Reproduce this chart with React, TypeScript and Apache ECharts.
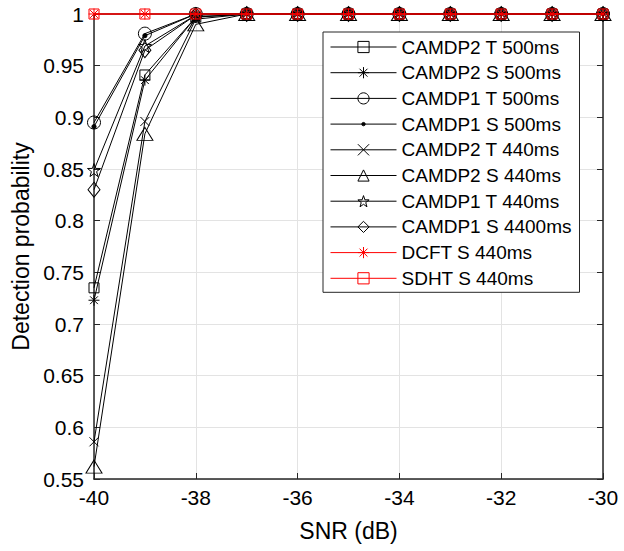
import React, { useEffect, useRef } from "react";
import * as echarts from "echarts";

const snr = [-40, -39, -38, -37, -36, -35, -34, -33, -32, -31, -30];
const camdp2T500 = [0.735, 0.941, 0.997, 1, 1, 1, 1, 1, 1, 1, 1];
const camdp2S500 = [0.723, 0.936, 0.997, 1, 1, 1, 1, 1, 1, 1, 1];
const camdp1T500 = [0.895, 0.981, 1, 1, 1, 1, 1, 1, 1, 1, 1];
const camdp1S500 = [0.891, 0.979, 1, 1, 1, 1, 1, 1, 1, 1, 1];
const camdp2T440 = [0.586, 0.896, 0.995, 1, 1, 1, 1, 1, 1, 1, 1];
const camdp2S440 = [0.562, 0.884, 0.99, 1, 1, 1, 1, 1, 1, 1, 1];
const camdp1T440 = [0.849, 0.969, 0.999, 1, 1, 1, 1, 1, 1, 1, 1];
const camdp1S4400 = [0.83, 0.965, 0.999, 1, 1, 1, 1, 1, 1, 1, 1];
const dcftS440 = [1, 1, 1, 1, 1, 1, 1, 1, 1, 1, 1];
const sdhtS440 = [1, 1, 1, 1, 1, 1, 1, 1, 1, 1, 1];

const seriesNames = [
  "CAMDP2 T 500ms",
  "CAMDP2 S 500ms",
  "CAMDP1 T 500ms",
  "CAMDP1 S 500ms",
  "CAMDP2 T 440ms",
  "CAMDP2 S 440ms",
  "CAMDP1 T 440ms",
  "CAMDP1 S 4400ms",
  "DCFT S 440ms",
  "SDHT S 440ms",
];
const seriesValues = [
  camdp2T500,
  camdp2S500,
  camdp1T500,
  camdp1S500,
  camdp2T440,
  camdp2S440,
  camdp1T440,
  camdp1S4400,
  dcftS440,
  sdhtS440,
];

const xTicks = { min: -40, max: -30, interval: 2 };
const yTicks = { min: 0.55, max: 1, interval: 0.05 };

// marker shapes
const starPath = (() => {
  const pts: string[] = [];
  for (let i = 0; i < 10; i++) {
    const r = i % 2 === 0 ? 1 : 0.4;
    const a = -Math.PI / 2 + (i * Math.PI) / 5;
    pts.push((r * Math.cos(a)).toFixed(4) + "," + (r * Math.sin(a)).toFixed(4));
  }
  return "path://M" + pts.join("L") + "Z";
})();
const asteriskPath =
  "path://M0,-1L0,1M-1,0L1,0M-0.7071,-0.7071L0.7071,0.7071M-0.7071,0.7071L0.7071,-0.7071";
const xPath = "path://M-1,-1L1,1M-1,1L1,-1";
const dotPath =
  "path://M-1,-1M1,1M0.3,0A0.3,0.3,0,1,1,-0.3,0A0.3,0.3,0,1,1,0.3,0Z";

const BLACK = "#000000";
const RED = "#ff0000";

const styles: { symbol: string; size: number | number[]; color: string; fill: string }[] = [
  { symbol: "rect", size: 10, color: BLACK, fill: "transparent" },
  { symbol: asteriskPath, size: 11, color: BLACK, fill: "transparent" },
  { symbol: "circle", size: 13, color: BLACK, fill: "transparent" },
  { symbol: dotPath, size: 14, color: BLACK, fill: BLACK },
  { symbol: xPath, size: 9, color: BLACK, fill: "transparent" },
  { symbol: "triangle", size: [16, 13], color: BLACK, fill: "transparent" },
  { symbol: starPath, size: 13, color: BLACK, fill: "transparent" },
  { symbol: "diamond", size: [12, 15], color: BLACK, fill: "transparent" },
  { symbol: asteriskPath, size: 11, color: RED, fill: "transparent" },
  { symbol: "rect", size: 10, color: RED, fill: "transparent" },
];

const FONT = "'Liberation Sans', Arial, Helvetica, sans-serif";
const AXIS = "#262626";

export default function App() {
  const ref = useRef<HTMLDivElement>(null);
  useEffect(() => {
    if (!ref.current) return;
    const chart = echarts.init(ref.current, undefined, { renderer: "svg" });
    const series = seriesNames.map((name, i) => ({
      name,
      type: "line",
      data: snr.map((x, j) => [x, seriesValues[i][j]]),
      symbol: styles[i].symbol,
      symbolSize: styles[i].size,
      showAllSymbol: true,
      clip: false,
      lineStyle: { color: styles[i].color, width: 1 },
      itemStyle: {
        color: styles[i].fill,
        borderColor: styles[i].color,
        borderWidth: 1,
      },
      emphasis: { disabled: true },
      z: 2 + i,
    }));
    const legendData = seriesNames.map((name, i) => ({
      name,
      itemStyle: { color: styles[i].fill, borderColor: styles[i].color, borderWidth: 1 },
      lineStyle: { color: styles[i].color, width: 1 },
    }));
    const fmt = (v: number) => String(parseFloat(v.toFixed(2)));
    chart.setOption({
      animation: false,
      backgroundColor: "#ffffff",
      textStyle: { fontFamily: FONT },
      grid: { left: 94, right: 21, top: 14, bottom: 72, containLabel: false },
      legend: {
        orient: "vertical",
        left: 323,
        top: 32,
        data: legendData,
        itemWidth: 66,
        itemHeight: 14,
        itemGap: 5.7,
        padding: [5, 8, 4, 7],
        backgroundColor: "#ffffff",
        borderColor: AXIS,
        borderWidth: 1,
        borderRadius: 0,
        selectedMode: false,
        itemStyle: { borderWidth: 1 },
        lineStyle: { width: 1 },
        textStyle: { fontSize: 19, lineHeight: 20, color: "#000", fontFamily: FONT },
      },
      xAxis: [
        {
          type: "value",
          min: xTicks.min,
          max: xTicks.max,
          interval: xTicks.interval,
          name: "SNR (dB)",
          nameLocation: "middle",
          nameGap: 40,
          nameTextStyle: { fontSize: 23, color: "#000", fontFamily: FONT },
          axisLine: { show: true, onZero: false, lineStyle: { color: AXIS, width: 1.5 } },
          axisTick: { show: true, inside: true, length: 6, lineStyle: { color: AXIS } },
          axisLabel: { fontSize: 21, color: "#000", margin: 8, fontFamily: FONT },
          splitLine: { show: true, lineStyle: { color: "#e3e3e3", width: 1 } },
        },
        {
          type: "value",
          position: "top",
          min: xTicks.min,
          max: xTicks.max,
          interval: xTicks.interval,
          axisLine: { show: true, onZero: false, lineStyle: { color: AXIS, width: 1.5 } },
          axisTick: { show: true, inside: true, length: 6, lineStyle: { color: AXIS } },
          axisLabel: { show: false },
          splitLine: { show: false },
        },
      ],
      yAxis: [
        {
          type: "value",
          min: yTicks.min,
          max: yTicks.max,
          interval: yTicks.interval,
          name: "Detection probability",
          nameLocation: "middle",
          nameGap: 60,
          nameTextStyle: { fontSize: 23, color: "#000", fontFamily: FONT },
          axisLine: { show: true, onZero: false, lineStyle: { color: AXIS, width: 1.5 } },
          axisTick: { show: true, inside: true, length: 6, lineStyle: { color: AXIS } },
          axisLabel: { fontSize: 21, color: "#000", margin: 10, formatter: fmt, fontFamily: FONT },
          splitLine: { show: true, lineStyle: { color: "#e3e3e3", width: 1 } },
        },
        {
          type: "value",
          position: "right",
          min: yTicks.min,
          max: yTicks.max,
          interval: yTicks.interval,
          axisLine: { show: true, onZero: false, lineStyle: { color: AXIS, width: 1.5 } },
          axisTick: { show: true, inside: true, length: 6, lineStyle: { color: AXIS } },
          axisLabel: { show: false },
          splitLine: { show: false },
        },
      ],
      series,
    });
    return () => chart.dispose();
  }, []);
  return (
    <div
      ref={ref}
      style={{ position: "fixed", left: 0, top: 0, width: 624, height: 551, background: "#fff" }}
    />
  );
}
